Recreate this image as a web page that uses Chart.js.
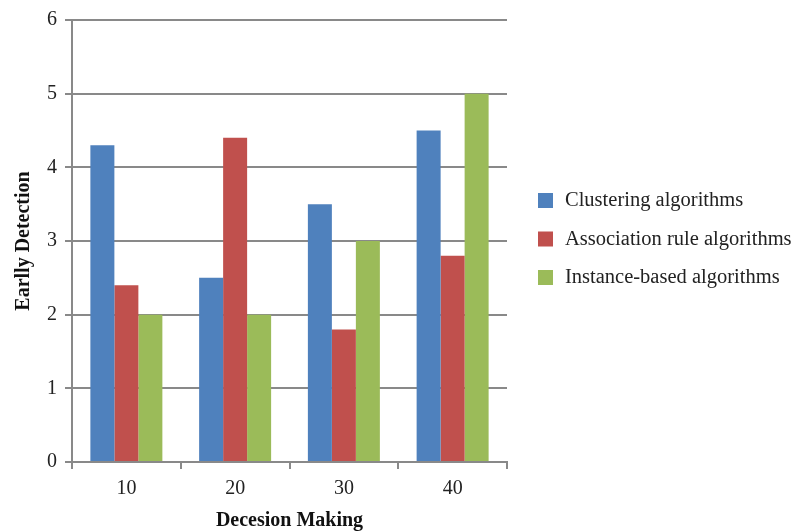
<!DOCTYPE html>
<html>
<head>
<meta charset="utf-8">
<script src="https://cdn.jsdelivr.net/npm/chart.js@4.4.1/dist/chart.umd.min.js"></script>
<style>
  html, body { margin: 0; padding: 0; background: #fff; }
  #wrap { width: 799px; height: 532px; }
</style>
</head>
<body>
<div id="wrap"><canvas id="chart" width="799" height="532"></canvas></div>
<script>
// datos del grafico
const categories = ["10", "20", "30", "40"];
const clustering = [4.3, 2.5, 3.5, 4.5];
const association = [2.4, 4.4, 1.8, 2.8];
const instance = [2.0, 2.0, 3.0, 5.0];
const seriesNames = ["Clustering algorithms", "Association rule algorithms", "Instance-based algorithms"];
const seriesColors = ["#4F81BD", "#C0504D", "#9BBB59"];

const FONT = "'Liberation Serif', 'DejaVu Serif', serif";
const gridColor = "#898989";

// leyenda dibujada a la derecha del area del grafico
const sideLegend = {
  id: "sideLegend",
  afterDraw(chart) {
    const ctx = chart.ctx;
    const x = chart.chartArea.right + 31;
    const startY = 201;
    const gap = 38.5;
    ctx.save();
    ctx.font = "20.5px " + FONT;
    ctx.textBaseline = "middle";
    chart.data.datasets.forEach((ds, i) => {
      const y = startY + i * gap;
      ctx.fillStyle = ds.backgroundColor;
      ctx.fillRect(x, y - 8, 15, 15);
      ctx.fillStyle = "#222";
      ctx.fillText(ds.label, x + 27, y);
    });
    ctx.restore();
  }
};

new Chart(document.getElementById("chart"), {
  type: "bar",
  data: {
    labels: categories,
    datasets: [
      { label: seriesNames[0], data: clustering, backgroundColor: seriesColors[0] },
      { label: seriesNames[1], data: association, backgroundColor: seriesColors[1] },
      { label: seriesNames[2], data: instance, backgroundColor: seriesColors[2] }
    ]
  },
  options: {
    responsive: false,
    animation: false,
    layout: { padding: { top: 12, right: 292, left: 12, bottom: -1 } },
    datasets: { bar: { categoryPercentage: 0.662, barPercentage: 1.0 } },
    plugins: {
      legend: { display: false },
      tooltip: { enabled: false }
    },
    scales: {
      x: {
        grid: { offset: true, drawOnChartArea: false, color: gridColor, lineWidth: 2, tickLength: 7 },
        border: { color: gridColor, width: 2 },
        ticks: { color: "#222", font: { family: FONT, size: 20 }, padding: 8 },
        title: { display: true, text: "Decesion Making", color: "#111", font: { family: FONT, size: 20, weight: "bold" }, padding: { top: 0, bottom: 0 } }
      },
      y: {
        min: 0,
        max: 6,
        grid: { color: gridColor, lineWidth: 2, tickLength: 7 },
        border: { color: gridColor, width: 2 },
        ticks: { stepSize: 1, color: "#222", font: { family: FONT, size: 20 }, padding: 8 },
        title: { display: true, text: "Earlly Detection", color: "#111", font: { family: FONT, size: 20, weight: "bold" }, padding: { top: 0, bottom: 3 } }
      }
    }
  },
  plugins: [sideLegend]
});
</script>
</body>
</html>
